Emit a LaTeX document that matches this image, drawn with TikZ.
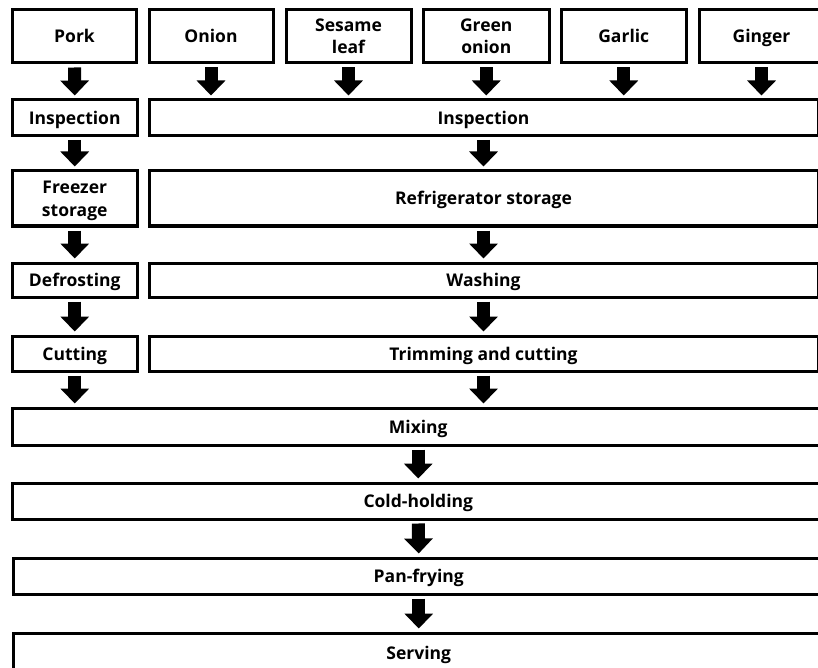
\documentclass[tikz,border=0pt]{standalone}
\usepackage{fontspec}
\setmainfont{Open Sans}
\usetikzlibrary{arrows.meta,calc}
\tikzset{
  box/.style={draw=black, line width=3pt, fill=white, inner sep=0pt, align=center,
    font=\fontsize{17.5}{22}\selectfont\bfseries,
    execute at begin node={\setlength{\lineskiplimit}{-20pt}}},
  barrow/.style={line width=13pt, -{Triangle[width=28pt,length=15pt]},
    shorten <=3pt, shorten >=3pt}
}
\newcommand{\bx}[6]{%
  \node[box, minimum width={#4-#2}, minimum height={#5-#3}] (#1) at ({(#2+#4)/2},{(#3+#5)/2}) {#6};}
\newcommand{\sr}{\rule[-5pt]{0pt}{23pt}}
\begin{document}
\begin{tikzpicture}[x=1pt,y=-1pt]
\useasboundingbox (0,0) rectangle (818,668);
\clip (0,0) rectangle (818,668);
\fill[white] (0,0) rectangle (818,668);
% top row
\bx{pork}{12.5}{9.5}{136.5}{63}{\sr Pork}
\bx{onion}{149}{9.5}{273}{63}{\sr Onion}
\bx{sesame}{286}{9.5}{411}{63}{\sr Sesame\\\sr leaf}
\bx{gonion}{423.5}{9.5}{549}{63}{\sr Green\\\sr onion}
\bx{garlic}{561.5}{9.5}{686}{63}{\sr Garlic}
\bx{ginger}{699}{9.5}{824}{63}{\sr Ginger}
% row 2
\bx{insL}{12.5}{100}{137}{135.5}{\sr Inspection}
\bx{insR}{149}{100}{818}{135.5}{\sr Inspection}
% row 3
\bx{frz}{12.5}{171}{137}{226}{\sr Freezer\\\sr storage}
\bx{ref}{149}{171}{818}{226}{\sr Refrigerator storage}
% row 4
\bx{def}{12.5}{263}{137}{297}{\sr Defrosting}
\bx{wash}{149}{263}{818}{297}{\sr Washing}
% row 5
\bx{cut}{12.5}{336}{137}{371}{\sr Cutting}
\bx{trim}{149}{336}{818}{371}{\sr Trimming and cutting}
% lower rows
\bx{mix}{12.5}{408}{824}{445}{\sr Mixing}
\bx{cold}{12.5}{483}{824}{519}{\sr Cold-holding}
\bx{pan}{13.5}{558}{824}{594}{\sr Pan-frying}
\bx{serve}{13.5}{633}{824}{672}{\sr Serving}
% arrows top row
\draw[barrow] (pork.south) -- (insL.north);
\foreach \n in {onion,sesame,gonion,garlic,ginger}
  \draw[barrow] (\n.south) -- (\n.south |- insR.north);
% left column
\draw[barrow] (insL.south) -- (frz.north);
\draw[barrow] (frz.south) -- (def.north);
\draw[barrow] (def.south) -- (cut.north);
\draw[barrow] (cut.south) -- (cut.south |- mix.north);
% right column
\draw[barrow] (insR.south) -- (ref.north);
\draw[barrow] (ref.south) -- (wash.north);
\draw[barrow] (wash.south) -- (trim.north);
\draw[barrow] (trim.south) -- (trim.south |- mix.north);
% bottom
\draw[barrow] (mix.south) -- (cold.north);
\draw[barrow] (cold.south) -- (pan.north);
\draw[barrow] (pan.south) -- (serve.north);
\end{tikzpicture}
\end{document}
